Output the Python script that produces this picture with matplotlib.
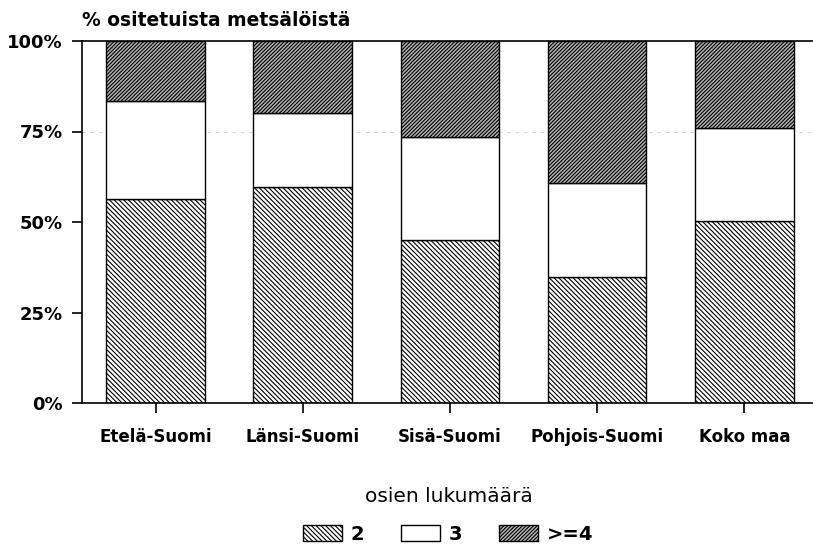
import numpy as np
import matplotlib
matplotlib.use("Agg")
import matplotlib.pyplot as plt

# data (share of partitioned holdings, %)
regions = ["Etelä-Suomi", "Länsi-Suomi", "Sisä-Suomi", "Pohjois-Suomi", "Koko maa"]
parts_2 = [56.4, 59.8, 45.0, 34.7, 50.3]
parts_3 = [27.1, 20.3, 28.5, 26.0, 25.6]
parts_4 = [16.5, 19.9, 26.5, 39.3, 24.1]
series_labels = ["2", "3", ">=4"]
yticks = [0, 25, 50, 75, 100]
ytick_labels = ["0%", "25%", "50%", "75%", "100%"]

plt.rcParams["font.family"] = ["DejaVu Sans"]
plt.rcParams["hatch.linewidth"] = 0.8
plt.rcParams["hatch.color"] = "black"

fig = plt.figure(figsize=(8.13, 5.47), dpi=100)
ax = fig.add_axes([82 / 813, 1 - 403 / 547, 730 / 813, 362 / 547])

x = np.arange(len(regions))
w = 0.67
b2 = ax.bar(x, parts_2, w, color="white", edgecolor="black", linewidth=1.0,
            hatch="\\" * 7, label=series_labels[0])
b3 = ax.bar(x, parts_3, w, bottom=parts_2, color="white", edgecolor="black",
            linewidth=1.0, label=series_labels[1])
bottom4 = np.array(parts_2) + np.array(parts_3)
b4 = ax.bar(x, parts_4, w, bottom=bottom4, color="#b4b4b4", edgecolor="black",
            linewidth=1.0, hatch="/" * 9, label=series_labels[2])

ax.set_xlim(-0.5, 4.46)
ax.set_ylim(0, 100)
ax.set_yticks(yticks)
ax.set_yticklabels(ytick_labels)
ax.set_xticks(x)
ax.set_xticklabels(regions)
ax.axhline(75, color="#cccccc", lw=0.6, ls=(0, (4, 6)), zorder=0)

for s in ["left", "bottom", "top"]:
    ax.spines[s].set_linewidth(1.2)
ax.spines["right"].set_visible(False)
ax.tick_params(axis="y", length=7, width=1.2, pad=7, labelsize=13)
ax.tick_params(axis="x", length=7, width=1.2, pad=11, labelsize=12)
for lab in ax.get_xticklabels() + ax.get_yticklabels():
    lab.set_fontweight("bold")

fig.text(82 / 813, 1 - 21 / 547, "% ositetuista metsälöistä", ha="left",
         va="center", fontsize=13.5, fontweight="bold")
fig.text(449 / 813, 1 - 497 / 547, "osien lukumäärä", ha="center",
         va="center", fontsize=14.5)

leg = fig.legend(handles=[b2, b3, b4], labels=series_labels, ncol=3,
                 frameon=False, loc="center",
                 bbox_to_anchor=(448 / 813, 1 - 534 / 547),
                 fontsize=14, handlelength=2.0, handleheight=0.85,
                 handletextpad=0.45, columnspacing=1.9, borderpad=0.2)
for t in leg.get_texts():
    t.set_fontweight("bold")

fig.savefig("out.png", dpi=100)
